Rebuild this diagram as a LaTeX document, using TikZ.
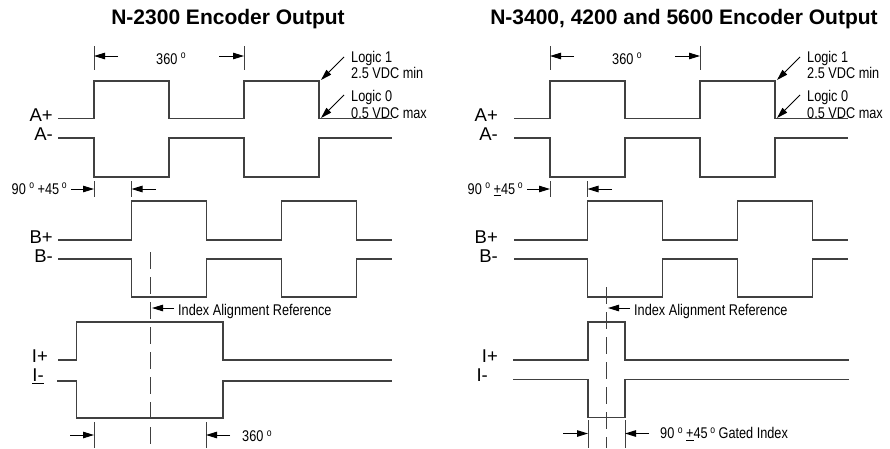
\documentclass[tikz,border=0pt]{standalone}
\usepackage{fontspec}
\setmainfont{Liberation Sans}
\newfontfamily\narrowfont[FakeStretch=0.82]{Liberation Sans}
\usetikzlibrary{arrows.meta}

\newcommand{\degsign}{\raisebox{0.62ex}{\fontsize{10.5}{10.5}\selectfont o}}

\tikzstyle{signal}   = [line width=1.2pt,black!75]
\tikzstyle{tick}     = [line width=0.8pt,black!75]
\tikzstyle{pointer}  = [line width=1pt,-{Triangle[length=11pt,width=6.5pt]}]
\tikzstyle{refline}  = [line width=0.8pt,black!75,dash pattern=on 17pt off 8pt]
\tikzstyle{notation} = [anchor=base west,inner sep=0,font=\narrowfont\fontsize{15.5}{17}\selectfont]
\tikzstyle{channel}  = [anchor=base east,inner sep=0,font=\fontsize{18.5}{20}\selectfont]
\tikzstyle{heading}  = [anchor=base,inner sep=0,font=\bfseries\fontsize{21}{24}\selectfont]

\begin{document}
\begin{tikzpicture}[x=1pt,y=-1pt]
\useasboundingbox (0,0) rectangle (890,448);
% Draw the headings
\node[heading] (head-n2300) at (228,24) {N-2300 Encoder Output};
\node[heading] (head-n3400) at (684,24) {N-3400, 4200 and 5600 Encoder Output};
% Draw the channels A and B of both encoders
\foreach \dx/\tol in {0/{+}, 456/{\underline{+}}}
{
  \begin{scope}[shift={(\dx,0)}]
  % channel A
  \draw[signal] (58,118.5) -| (94,81) -| (169,118.5) -| (244,81) -| (319,118.5) -- (392,118.5);
  \draw[signal] (58,138) -| (94,177) -| (169,138) -| (244,177) -| (319,138) -- (392,138);
  % one period
  \coordinate (per-a) at (94,56);
  \coordinate (per-b) at (244,56);
  \draw[tick] (94,46) -- (94,70) (244,46) -- (244,70);
  \draw[pointer] (118,56) -- (per-a);
  \draw[pointer] (219,56) -- (per-b);
  \node[notation] (per-text) at (156,64) {360 \degsign};
  % logic levels
  \node[notation] (high-text) at (351,62) {Logic 1};
  \node[notation] at (351,78) {2.5 VDC min};
  \node[notation] (low-text) at (351,101.5) {Logic 0};
  \node[notation] at (351,118) {0.5 VDC max};
  \draw[pointer] (344,57) -- (321,80);
  \draw[pointer] (344,95) -- (321,118);
  % phase between A and B
  \node[notation] (phase-text) at (11.5,194) {90 \degsign\ \tol45\,\degsign};
  \draw[tick] (94,181) -- (94,197) (131.5,181) -- (131.5,197);
  \draw[pointer] (71,189) -- (94,189);
  \draw[pointer] (156,189) -- (131.5,189);
  % channel B
  \draw[signal] (58,240) -| (131.5,201) -| (206.5,240) -| (281.5,201) -| (356.5,240) -- (392,240);
  \draw[signal] (58,259) -| (131.5,297) -| (206.5,259) -| (281.5,297) -| (356.5,259) -- (392,259);
  \end{scope}
}
% Channel names
\foreach \lx in {53, 498}
{
  \node[channel] at (\lx,121) {A+};
  \node[channel] at (\lx,140.5) {A-};
  \node[channel] at (\lx,243) {B+};
  \node[channel] at (\lx,262) {B-};
}
\node[channel] (ip-left) at (48,362) {I+};
\node[channel] (im-left) at (44,381.5) {\underline{I-}};
\node[channel] (ip-right) at (498,362) {I+};
\node[channel] (im-right) at (488,381.5) {I-};
% Draw the index of the N-2300
\draw[signal] (58,360) -| (76.5,322) -| (223,360) -- (392,360);
\draw[signal] (57,381) -| (76.5,418) -| (223,381) -- (392,381);
\draw[refline] (150,252) -- (150,448);
\node[notation] (ref-left) at (178,315) {Index Alignment Reference};
\draw[pointer] (174,308) -- (152,308);
\draw[tick] (94,422) -- (94,448) (206,422) -- (206,448);
\draw[pointer] (70,435) -- (94,435);
\draw[pointer] (230,435) -- (206,435);
\node[notation] (width-left) at (242,441.5) {360 \degsign};
% Draw the gated index of the larger encoders
\draw[signal] (513,360) -| (588,322) -| (625,360) -- (849,360);
\draw[signal] (513,379.5) -| (588,417.5) -| (625,379.5) -- (849,379.5);
\draw[refline] (606,287) -- (606,448);
\node[notation] (ref-right) at (634,315) {Index Alignment Reference};
\draw[pointer] (630,308) -- (608,308);
\draw[tick] (588,420) -- (588,448) (625,420) -- (625,448);
\draw[pointer] (563,433.5) -- (588,433.5);
\draw[pointer] (649,433.5) -- (625,433.5);
\node[notation] (width-right) at (660,438.5) {90 \degsign\ \underline{+}45\,\degsign\ Gated Index};
\end{tikzpicture}
\end{document}
